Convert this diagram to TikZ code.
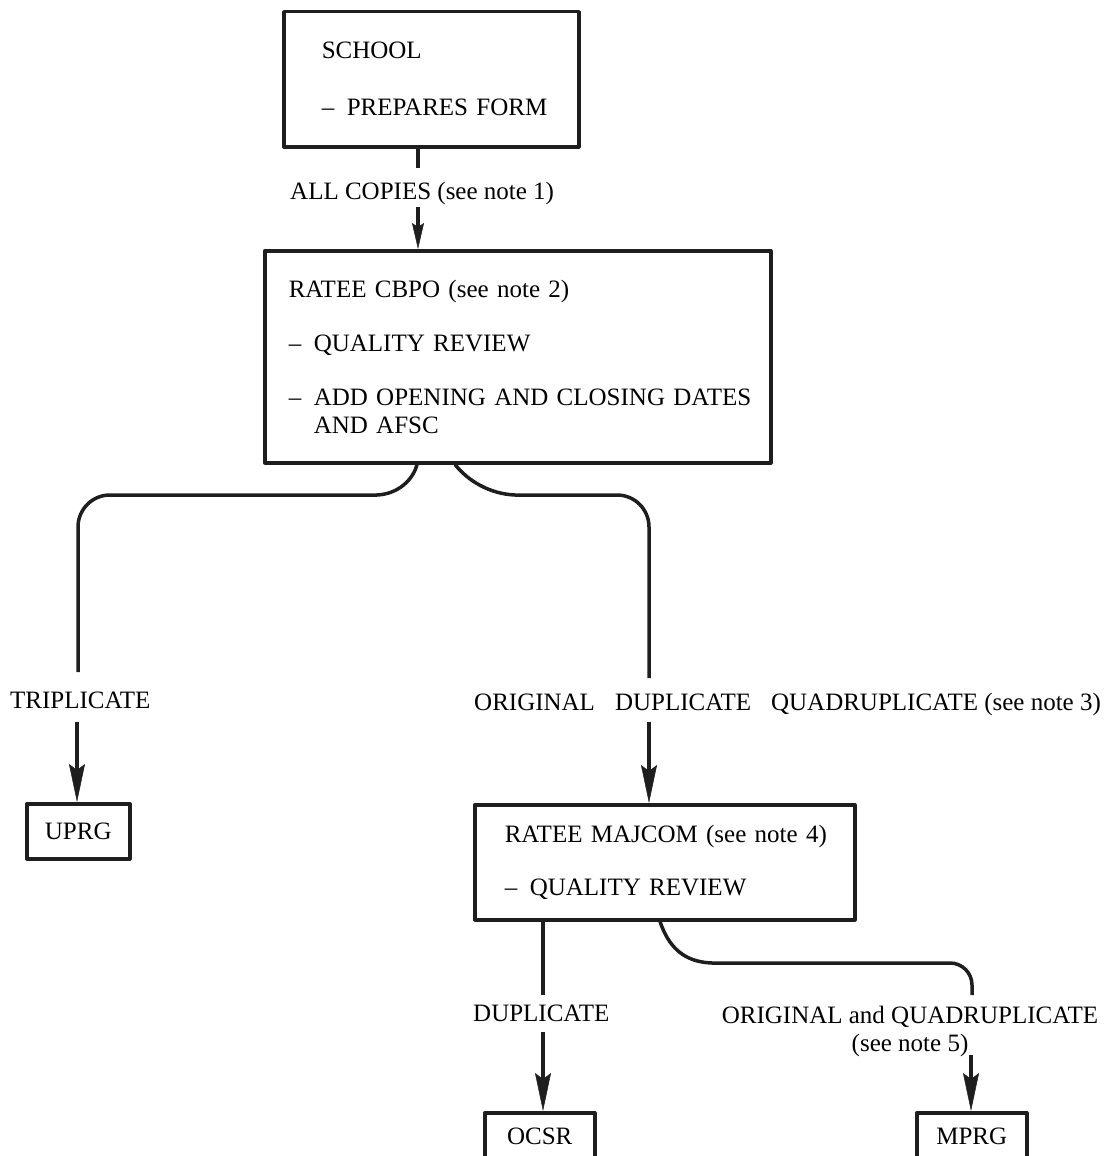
\documentclass[tikz,border=0pt]{standalone}
\usepackage{fontspec}
\setmainfont{Liberation Serif}
\usetikzlibrary{arrows.meta}
\definecolor{ink}{HTML}{1E1E1E}
\begin{document}
\begin{tikzpicture}[x=1pt,y=-1pt, line join=round,
  font=\fontsize{25}{28}\selectfont,
  conn/.style={draw=ink, line width=3.5pt},
  arr/.style={conn, -{Stealth[length=38pt,width=16pt,inset=6pt,line width=0.5pt]}},
  arrsmall/.style={conn, -{Stealth[length=26pt,width=12pt,inset=4pt,line width=0.5pt]}},
  box/.style={draw=ink, line width=3.5pt, anchor=north west, inner ysep=0pt, align=left},
  smallbox/.style={draw=ink, line width=3.5pt, anchor=north west, inner sep=0pt},
  lab/.style={inner sep=0pt, anchor=base west}]
\useasboundingbox (0,0) rectangle (1110,1156);

% boxes
\node[box, text width=219pt, inner xsep=38pt, minimum height=135pt] (school) at (282,10)
  {\mbox{SCHOOL}\\[29pt]\mbox{–\hspace{0.5em}PREPARES FORM}};
\node[box, text width=458pt, inner xsep=24pt, minimum height=212pt] (cbpo) at (263,249)
  {\mbox{RATEE CBPO (see note 2)}\\[26pt]\mbox{–\hspace{0.5em}QUALITY REVIEW}\\[26pt]\mbox{–\hspace{0.5em}ADD OPENING AND CLOSING DATES}\\\hspace*{25pt}\mbox{AND AFSC}};
\node[box, text width=320pt, inner xsep=30pt, minimum height=115pt] (majcom) at (473,803)
  {\mbox{RATEE MAJCOM (see note 4)}\\[25pt]\mbox{–\hspace{0.5em}QUALITY REVIEW}};
\node[smallbox, minimum width=103pt, minimum height=55pt] (uprg) at (25,802) {UPRG};
\node[smallbox, minimum width=110pt, minimum height=48pt] (ocsr) at (483,1111) {OCSR};
\node[smallbox, minimum width=110pt, minimum height=48pt] (mprg) at (915,1111) {MPRG};

% labels
\node[lab] (lab1) at (290,199.5) {ALL COPIES (see note 1)};
\node[lab] (lab2) at (10,708.5) {TRIPLICATE};
\node[lab] (lab3) at (474,710.5) {ORIGINAL\hspace{20pt}DUPLICATE\hspace{20pt}QUADRUPLICATE (see note 3)};
\node[lab] (lab4) at (473,1021.5) {DUPLICATE};
\node[inner sep=0pt, anchor=north, align=center] (lab5) at (910,1006) {ORIGINAL and QUADRUPLICATE\\(see note 5)};

% free ends of connectors
\coordinate (a1) at (418,168); \coordinate (a2) at (418,207);
\coordinate (bl) at (417,461); \coordinate (br) at (455,461);
\coordinate (l1) at (78,672);  \coordinate (l2) at (77,722);
\coordinate (r1) at (649,678); \coordinate (r2) at (649,722);
\coordinate (ml) at (543,918); \coordinate (mr) at (660,918);
\coordinate (m1) at (543,995); \coordinate (m2) at (543,1032);
\coordinate (q1) at (972,995); \coordinate (q2) at (971,1055);

% connectors
\draw[conn] (school.south -| a1) -- (a1);
\draw[arrsmall] (a2) -- (cbpo.north -| a2);
\draw[conn] (cbpo.south -| bl) .. controls (413,480) and (398,494) .. (377,495)
  [rounded corners=32pt] -- (78,495) -- (l1);
\draw[conn] (cbpo.south -| br) .. controls (468,481) and (490,494) .. (515,495)
  [rounded corners=32pt] -- (649,495) -- (r1);
\draw[arr] (l2) -- (uprg.north -| l2);
\draw[arr] (r2) -- (majcom.north -| r2);
\draw[conn] (majcom.south -| ml) -- (m1);
\draw[arr] (m2) -- (ocsr.north -| m2);
\draw[conn] (majcom.south -| mr) .. controls (668,945) and (682,962) .. (712,963)
  [rounded corners=22pt] -- (972,963) -- (q1);
\draw[arr] (q2) -- (mprg.north -| q2);
\end{tikzpicture}
\end{document}
